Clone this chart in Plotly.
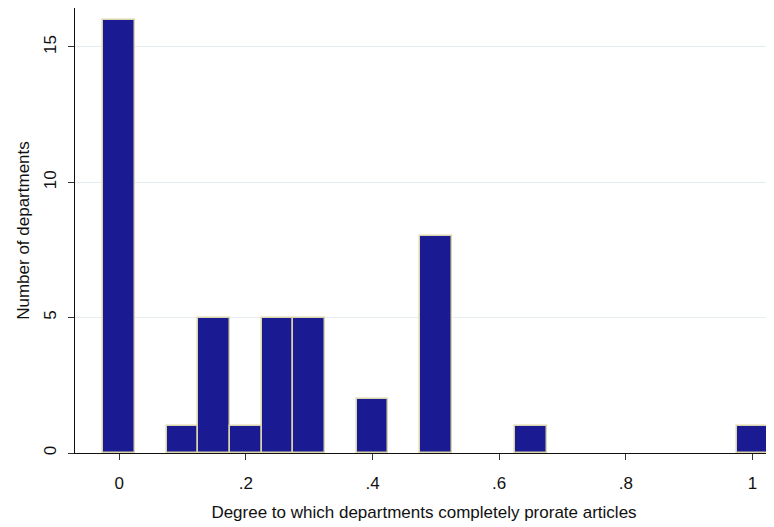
import plotly.graph_objects as go

bin_centers = [0.0, 0.10, 0.15, 0.20, 0.25, 0.30, 0.40, 0.50, 0.65, 1.00]
counts = [16, 1, 5, 1, 5, 5, 2, 8, 1, 1]
bin_width = 0.05
x_tickvals = [0, 0.2, 0.4, 0.6, 0.8, 1]
x_ticktext = ["0", ".2", ".4", ".6", ".8", "1"]
y_tickvals = [0, 5, 10, 15]

fig = go.Figure(go.Bar(
    x=bin_centers, y=counts, width=[bin_width] * len(bin_centers),
    marker=dict(color="#1a1a93", line=dict(color="#d9d4aa", width=1.5)),
    cliponaxis=False,
))

# page body has an 8px default margin, so the figure is sized to fit after that offset
font = "Liberation Sans, Arial, sans-serif"
fig.update_layout(
    width=766, height=519,
    margin=dict(l=67, r=1, t=0, b=74, autoexpand=False),
    paper_bgcolor="white", plot_bgcolor="white",
    showlegend=False, bargap=0,
    font=dict(family=font, size=17, color="#111"),
)
fig.update_xaxes(
    range=[-0.07, 1.0325], tickvals=x_tickvals, ticktext=x_ticktext,
    showgrid=False, zeroline=False, showline=True, linecolor="#111", linewidth=1.2,
    ticks="outside", ticklen=6, tickcolor="#333", automargin=False,
    tickfont=dict(size=17), ticklabelstandoff=8,
    title=dict(text="Degree to which departments completely prorate articles", font=dict(size=17), standoff=14),
)
fig.update_yaxes(
    range=[0, 16.44], tickvals=y_tickvals, tickangle=-90,
    showgrid=True, gridcolor="#e6edf1", gridwidth=1.2, zeroline=False,
    showline=True, linecolor="#111", linewidth=1.2,
    ticks="outside", ticklen=6, tickcolor="#333", automargin=False,
    tickfont=dict(size=17), ticklabelstandoff=5,
    title=dict(text="Number of departments", font=dict(size=17), standoff=7),
)
fig.write_html("out.html")
